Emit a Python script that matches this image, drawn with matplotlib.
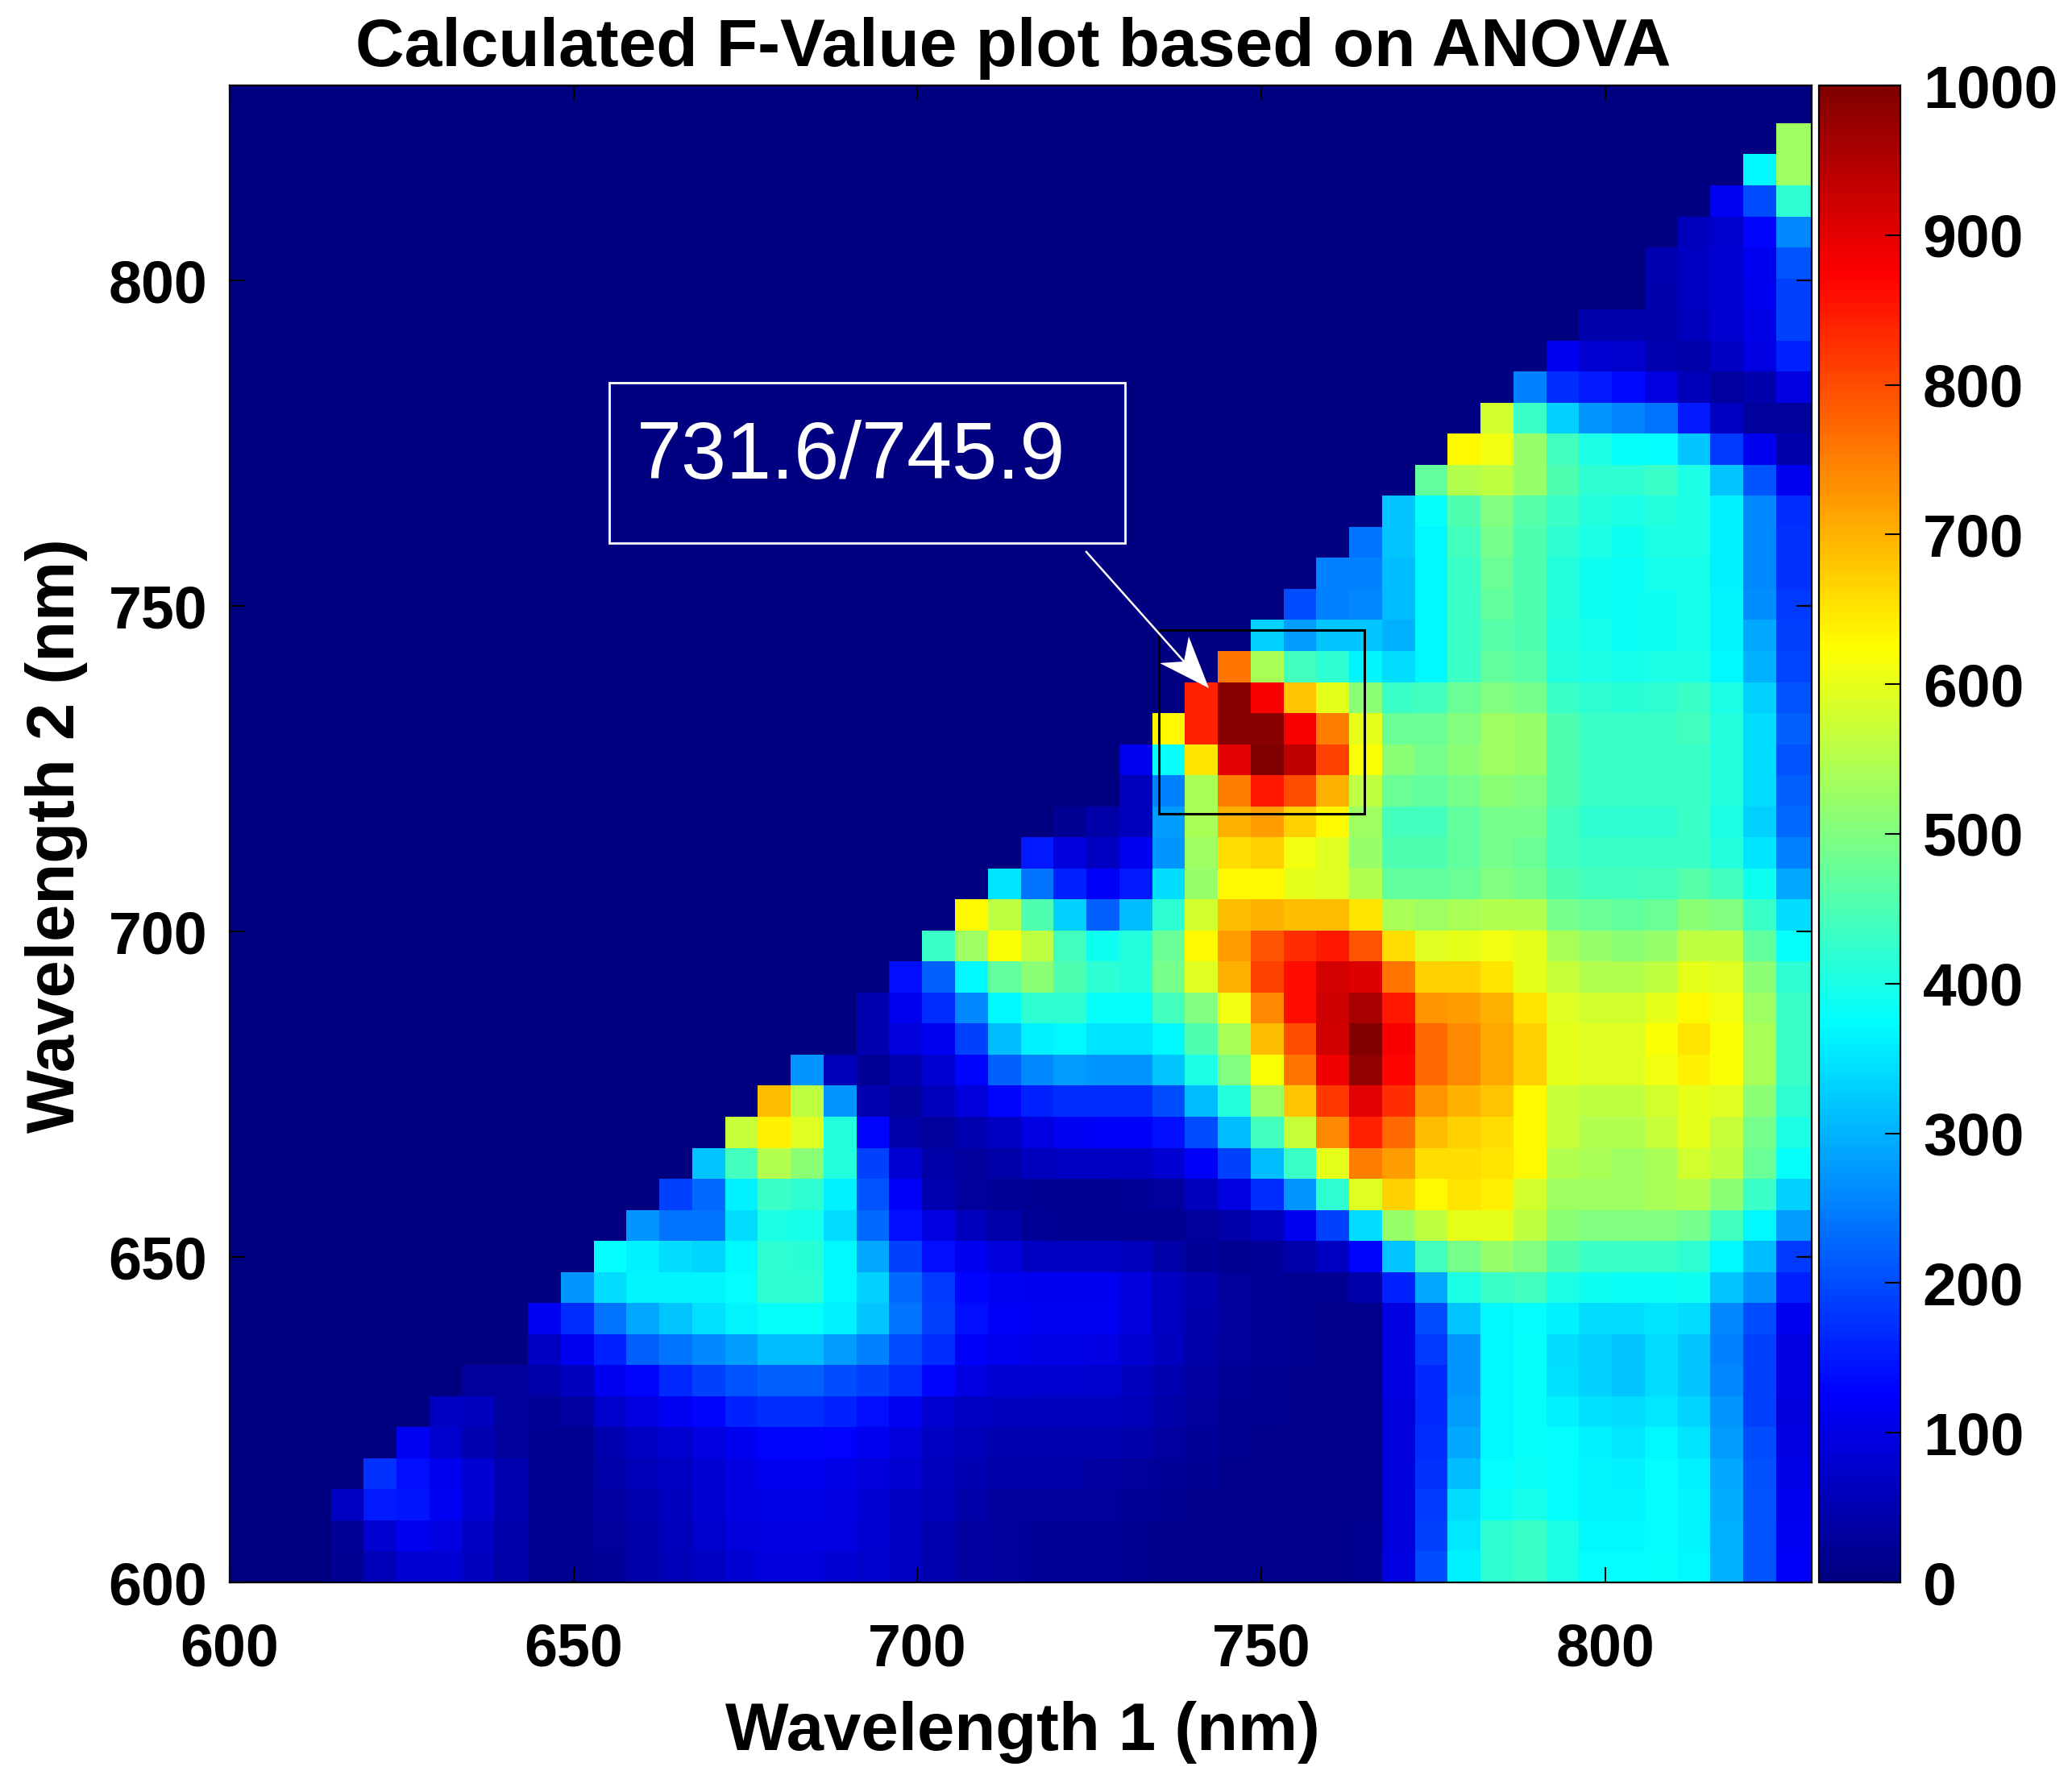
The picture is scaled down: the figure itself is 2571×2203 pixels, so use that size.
import numpy as np
import matplotlib
matplotlib.use('Agg')
import matplotlib.pyplot as plt
from matplotlib.colors import LinearSegmentedColormap
from matplotlib.patches import Polygon, Rectangle
from matplotlib.lines import Line2D
from matplotlib.transforms import Affine2D

W, H = 2571, 2203

# F-values, bottom row first. Each list ends at the last column, cells left of it are 0
row_00 = [20, 55, 85, 85, 65, 40, 20, 20, 25, 40, 55, 70, 85, 90, 90, 85, 75, 70, 50, 35, 30, 25, 25, 25, 20, 15, 15, 15, 15, 15, 15, 20, 95, 200, 360, 420, 430, 400, 375, 375, 380, 370, 300, 210, 120]
row_01 = [25, 80, 110, 100, 70, 40, 20, 20, 30, 45, 60, 75, 90, 100, 100, 95, 80, 70, 50, 35, 30, 25, 25, 25, 20, 15, 15, 15, 15, 15, 15, 20, 90, 190, 355, 420, 430, 400, 370, 370, 375, 365, 300, 210, 115]
row_02 = [70, 150, 145, 115, 80, 50, 20, 20, 35, 50, 65, 80, 95, 105, 105, 100, 85, 70, 55, 40, 30, 30, 30, 30, 25, 20, 15, 15, 15, 15, 15, 15, 90, 180, 340, 385, 395, 375, 365, 365, 375, 365, 295, 210, 110]
row_03 = [175, 140, 110, 80, 50, 20, 20, 40, 55, 70, 85, 100, 110, 110, 105, 90, 80, 60, 50, 40, 40, 40, 35, 30, 25, 20, 15, 15, 15, 15, 15, 90, 175, 310, 375, 385, 375, 365, 360, 375, 360, 290, 205, 105]
row_04 = [115, 75, 50, 30, 20, 20, 50, 70, 80, 95, 110, 130, 130, 125, 110, 90, 70, 55, 50, 50, 50, 50, 45, 35, 25, 20, 15, 15, 15, 15, 90, 170, 290, 370, 380, 375, 360, 355, 370, 350, 280, 200, 100]
row_05 = [70, 60, 30, 25, 35, 75, 95, 115, 130, 160, 170, 170, 160, 140, 115, 80, 70, 65, 65, 65, 65, 55, 40, 30, 20, 18, 15, 15, 15, 90, 165, 280, 370, 380, 360, 345, 340, 355, 335, 270, 190, 90]
row_06 = [30, 30, 40, 65, 110, 130, 165, 190, 210, 220, 220, 200, 190, 170, 130, 100, 85, 80, 80, 75, 65, 50, 35, 25, 20, 15, 15, 15, 100, 165, 270, 370, 380, 345, 330, 320, 340, 320, 260, 190, 95]
row_07 = [70, 110, 160, 220, 240, 260, 280, 310, 310, 280, 250, 200, 170, 120, 110, 105, 105, 100, 85, 65, 40, 30, 25, 20, 15, 15, 100, 180, 270, 370, 380, 340, 330, 320, 340, 320, 250, 190, 100]
row_08 = [115, 170, 240, 290, 320, 345, 365, 380, 380, 360, 320, 240, 190, 140, 120, 115, 115, 115, 90, 70, 45, 30, 25, 20, 15, 15, 100, 200, 320, 370, 375, 360, 340, 340, 350, 340, 260, 200, 110]
row_09 = [270, 340, 365, 365, 365, 375, 420, 420, 370, 330, 230, 180, 130, 115, 110, 110, 110, 90, 70, 50, 30, 25, 20, 20, 40, 160, 290, 400, 430, 440, 400, 390, 385, 385, 390, 320, 270, 160]
row_10 = [375, 360, 340, 335, 370, 420, 415, 370, 290, 190, 140, 110, 90, 70, 70, 70, 60, 40, 25, 20, 25, 40, 70, 130, 320, 440, 490, 520, 500, 450, 430, 430, 430, 420, 370, 310, 180]
row_11 = [270, 240, 240, 340, 400, 395, 340, 230, 140, 100, 60, 40, 25, 20, 20, 20, 20, 30, 40, 60, 110, 190, 340, 520, 560, 600, 600, 560, 510, 500, 500, 500, 490, 440, 370, 280]
row_12 = [190, 230, 360, 430, 420, 360, 210, 120, 50, 30, 25, 20, 20, 20, 25, 30, 60, 100, 170, 270, 420, 590, 670, 630, 650, 640, 580, 530, 530, 530, 540, 550, 510, 430, 330]
row_13 = [320, 440, 550, 510, 410, 190, 85, 40, 30, 40, 60, 70, 70, 70, 80, 120, 190, 310, 430, 600, 750, 720, 660, 660, 650, 630, 550, 540, 530, 540, 580, 560, 480, 380]
row_14 = [570, 640, 590, 410, 130, 40, 30, 50, 70, 100, 115, 120, 120, 140, 200, 310, 440, 570, 740, 840, 770, 690, 670, 660, 630, 570, 550, 550, 570, 600, 570, 490, 400]
row_15 = [690, 560, 270, 50, 30, 60, 90, 130, 160, 170, 170, 170, 200, 310, 410, 530, 680, 820, 900, 830, 730, 700, 680, 630, 570, 560, 560, 580, 600, 590, 510, 420]
row_16 = [270, 55, 25, 50, 80, 130, 220, 260, 280, 270, 270, 320, 400, 500, 620, 760, 890, 980, 870, 770, 740, 710, 670, 600, 590, 590, 610, 640, 620, 540, 430]
row_17 = [50, 90, 110, 190, 310, 360, 370, 350, 350, 370, 450, 540, 690, 800, 920, 1000, 880, 770, 740, 710, 670, 600, 590, 590, 620, 650, 620, 540, 430]
row_18 = [50, 110, 170, 260, 370, 420, 420, 380, 380, 440, 500, 610, 740, 860, 925, 960, 850, 730, 720, 700, 650, 590, 580, 580, 600, 630, 610, 530, 430]
row_19 = [140, 220, 370, 470, 510, 450, 420, 410, 490, 590, 700, 810, 860, 915, 910, 760, 670, 670, 650, 600, 570, 550, 550, 560, 600, 590, 510, 420]
row_20 = [430, 530, 620, 560, 440, 390, 410, 480, 630, 720, 790, 830, 850, 790, 660, 590, 600, 610, 600, 540, 520, 510, 520, 560, 560, 470, 380]
row_21 = [630, 560, 450, 330, 220, 310, 420, 580, 690, 700, 690, 690, 650, 540, 530, 540, 550, 550, 490, 480, 470, 480, 510, 500, 430, 340]
row_22 = [350, 240, 160, 120, 150, 340, 520, 630, 630, 600, 590, 550, 470, 470, 480, 500, 490, 450, 440, 440, 445, 460, 440, 390, 290]
row_23 = [150, 90, 70, 110, 270, 530, 660, 670, 610, 590, 520, 450, 450, 470, 490, 480, 440, 430, 430, 430, 430, 410, 350, 250]
row_24 = [20, 40, 60, 280, 540, 700, 720, 670, 630, 530, 440, 440, 470, 490, 490, 440, 420, 420, 420, 430, 400, 330, 230]
row_25 = [60, 250, 540, 750, 850, 800, 700, 560, 480, 470, 490, 510, 500, 450, 430, 430, 430, 430, 410, 340, 220]
row_26 = [110, 380, 650, 900, 1000, 940, 810, 620, 510, 490, 510, 530, 520, 450, 430, 430, 430, 430, 410, 340, 210]
row_27 = [630, 840, 990, 990, 880, 750, 600, 480, 480, 500, 530, 520, 450, 430, 430, 430, 440, 410, 340, 220]
row_28 = [840, 990, 880, 680, 600, 510, 430, 440, 480, 500, 490, 430, 420, 415, 420, 430, 400, 330, 210]
row_29 = [760, 540, 440, 420, 365, 340, 370, 430, 470, 460, 410, 400, 395, 400, 400, 370, 300, 195]
row_30 = [330, 280, 320, 320, 300, 370, 430, 460, 450, 405, 395, 385, 390, 395, 365, 290, 190]
row_31 = [200, 250, 260, 310, 370, 430, 470, 450, 410, 390, 385, 390, 395, 365, 265, 180]
row_32 = [250, 250, 310, 370, 430, 480, 450, 410, 390, 385, 395, 395, 360, 260, 175]
row_33 = [240, 320, 370, 440, 490, 450, 420, 400, 390, 400, 400, 360, 260, 175]
row_34 = [320, 380, 450, 500, 460, 430, 410, 400, 410, 400, 360, 260, 170]
row_35 = [470, 550, 560, 520, 450, 420, 420, 430, 400, 320, 210, 110]
row_36 = [630, 610, 520, 440, 400, 380, 375, 320, 180, 110, 45]
row_37 = [580, 430, 330, 270, 255, 240, 150, 70, 30, 30]
row_38 = [250, 170, 150, 135, 100, 55, 35, 45, 100]
row_39 = [110, 85, 75, 50, 40, 70, 100, 160]
row_40 = [45, 45, 40, 60, 80, 105, 190]
row_41 = [45, 70, 80, 110, 190]
row_42 = [50, 70, 85, 110, 210]
row_43 = [60, 75, 130, 260]
row_44 = [115, 200, 420]
row_45 = [370, 530]
row_46 = [530]

f_rows = [row_00, row_01, row_02, row_03, row_04, row_05, row_06, row_07, row_08, row_09,
          row_10, row_11, row_12, row_13, row_14, row_15, row_16, row_17, row_18, row_19,
          row_20, row_21, row_22, row_23, row_24, row_25, row_26, row_27, row_28, row_29,
          row_30, row_31, row_32, row_33, row_34, row_35, row_36, row_37, row_38, row_39,
          row_40, row_41, row_42, row_43, row_44, row_45, row_46]

axis_ticks = [600, 650, 700, 750, 800]
cbar_ticks = [0, 100, 200, 300, 400, 500, 600, 700, 800, 900, 1000]

plt.rcParams['font.family'] = ['Liberation Sans', 'DejaVu Sans']

n = 48
z = np.zeros((n, n))
for j, row in enumerate(f_rows):
    z[j, n - len(row):] = row

# grid is not quite aligned to the axis limits
x_edges = 600.4 + 4.775 * np.arange(n + 1)
x_edges[0], x_edges[-1] = 600, 830
y_edges = 600 + 4.77 * np.arange(n + 1)
y_edges[-1] = 830

# MATLAB's jet, matplotlib's one has its stops elsewhere
jet_m = LinearSegmentedColormap.from_list('jet_m', [(0, (0, 0, 0.5)), (0.125, (0, 0, 1)), (0.375, (0, 1, 1)),
                                                    (0.625, (1, 1, 0)), (0.875, (1, 0, 0)), (1, (0.5, 0, 0))], N=256)

fig = plt.figure(figsize=(W / 100, H / 100), dpi=100)
# pixel coordinates of the picture, y downwards
px = Affine2D().scale(1, -1).translate(0, H)


def ax_rect(x0, y0, x1, y1):
    return [x0 / W, 1 - y1 / H, (x1 - x0) / W, (y1 - y0) / H]


ax = fig.add_axes(ax_rect(285, 106, 2248, 1964))
cax = fig.add_axes(ax_rect(2257, 106, 2358, 1964))

im = ax.pcolormesh(x_edges, y_edges, z, cmap=jet_m, vmin=0, vmax=1000, linewidth=0, rasterized=True)
ax.set_xlim(600, 830)
ax.set_ylim(600, 830)
ax.set_xticks(axis_ticks)
ax.set_yticks(axis_ticks)
ax.tick_params(direction='in', length=14, width=1.5, top=True, right=True, labelsize=53, pad=36)
ax.tick_params(axis='y', pad=20)
for lab in ax.get_xticklabels() + ax.get_yticklabels():
    lab.set_fontweight('bold')
for s in ax.spines.values():
    s.set_linewidth(1.6)

cb = fig.colorbar(im, cax=cax, ticks=cbar_ticks)
cb.ax.tick_params(direction='in', length=14, width=1.5, labelsize=54, pad=20)
for lab in cb.ax.get_yticklabels():
    lab.set_fontweight('bold')
cb.outline.set_linewidth(1.6)

fig.text(1257 / W, 1 - 60 / H, 'Calculated F-Value plot based on ANOVA', fontsize=60.4, fontweight='bold',
         ha='center', va='center')
fig.text(1269 / W, 1 - 2150 / H, 'Wavelength 1 (nm)', fontsize=60, fontweight='bold', ha='center', va='center')
fig.text(70 / W, 1 - 1037 / H, 'Wavelength 2 (nm)', fontsize=60, fontweight='bold', ha='center', va='center',
         rotation=90)

# callout over the maximum
fig.add_artist(Rectangle((756, 475), 640, 199, fill=False, ec='white', lw=2, transform=px))
fig.text(790 / W, 1 - 568 / H, '731.6/745.9', fontsize=72.5, color='white', ha='left', va='center')
fig.add_artist(Line2D([1348, 1470], [685, 822], color='white', lw=1.8, transform=px))
fig.add_artist(Polygon([(1500, 854), (1439, 823), (1469, 821), (1475, 790)], closed=True, fc='white', ec='none',
                       transform=px))
fig.add_artist(Rectangle((1438, 782), 255, 228, fill=False, ec='black', lw=2.2, transform=px))

fig.savefig('out.png', dpi=100)
